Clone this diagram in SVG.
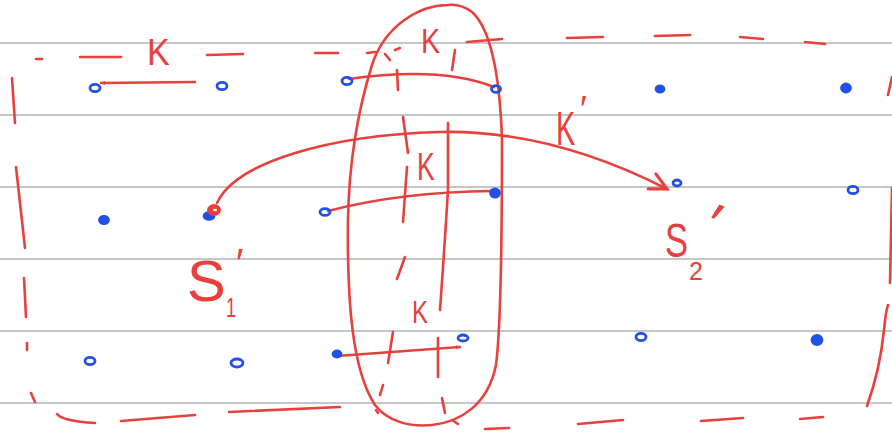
<svg xmlns="http://www.w3.org/2000/svg" width="892" height="436" viewBox="0 0 892 436">
<style>
.rule{stroke:#c6c6c6;stroke-width:2.2}
.red{stroke:#e8403c;stroke-width:2.6;fill:none;stroke-linecap:round;stroke-linejoin:round}
.dot{stroke:#2350e6;stroke-width:2.8;fill:none}
.dotf{stroke:#2350e6;stroke-width:2.8;fill:#2350e6}
.lbl{font-family:"Liberation Sans",Arial,sans-serif;fill:#e8403c}
</style>
<defs>
<marker id="open" markerUnits="userSpaceOnUse" markerWidth="24" markerHeight="24" viewBox="-16 -10 20 20" refX="0" refY="0" orient="auto">
<path d="M-14,-7 L0,0 L-14,7" fill="none" stroke="#e8403c" stroke-width="2.6" stroke-linecap="round"/>
</marker>
<marker id="tip" markerUnits="userSpaceOnUse" markerWidth="10" markerHeight="10" viewBox="-5 -5 10 10" refX="0" refY="0" orient="auto">
<path d="M-4,-2 L1,0 L-4,2 Z" fill="#e8403c"/>
</marker>
</defs>
<rect width="892" height="436" fill="#ffffff"/>
<g id="ruled-lines">
<line class="rule" x1="0" y1="43" x2="892" y2="43"/>
<line class="rule" x1="0" y1="115" x2="892" y2="115"/>
<line class="rule" x1="0" y1="187" x2="892" y2="187"/>
<line class="rule" x1="0" y1="259" x2="892" y2="259"/>
<line class="rule" x1="0" y1="331" x2="892" y2="331"/>
<line class="rule" x1="0" y1="403" x2="892" y2="403"/>
</g>
<g id="dashed-boundary" class="red">
<path d="M36,59 L42,59"/>
<path d="M80,57 L121,57"/>
<path d="M207,55 L243,54"/>
<path d="M315,53 L338,53"/>
<path d="M367,53 L375,52"/>
<path d="M385,54 L390,60"/>
<path d="M395,50 L400,48"/>
<path d="M467,42 L502,39"/>
<path d="M567,38 L603,37"/>
<path d="M655,36 L690,35"/>
<path d="M740,37 L763,39"/>
<path d="M805,42 L825,44"/>
<path d="M12,78 L15,123"/>
<path d="M16,167 L25,248"/>
<path d="M24,278 L26,317"/>
<path d="M27,343 L27,350"/>
<path d="M31,393 L35,402"/>
<path d="M57,414 Q62,421 95,423"/>
<path d="M121,421 L195,415"/>
<path d="M229,412 L340,407"/>
<path d="M485,429 L509,428"/>
<path d="M578,424 L623,420"/>
<path d="M701,421 L743,418"/>
<path d="M800,419 L823,417"/>
<path d="M867,406 Q880,370 884,330 Q886,310 888,305"/>
<path d="M890,283 L892,188"/>
<path d="M888,95 L892,77"/>
</g>
<g id="ellipse-group" class="red">
<path d="M448,5 C420,5 385,25 372,65 C358,110 349,160 348,220 C347,300 352,370 375,405 C388,422 410,427 432,425 C460,422 488,405 496,365 C502,320 502,200 502,140 C500,80 492,30 472,12 C464,6 456,4 448,5"/>
<path d="M397,70 L398,90"/>
<path d="M403,117 L408,153"/>
<path d="M407,167 L403,222"/>
<path d="M405,257 L397,279"/>
<path d="M393,332 L388,363"/>
<path d="M383,385 L380,395"/>
<path d="M376,410 L378,413"/>
<path d="M455,50 L452,70"/>
<path d="M448,123 L448,190 Q445,240 440,310"/>
<path d="M438,338 L438,377"/>
<path d="M442,398 L445,413"/>
<path d="M452,420 L458,424"/>
</g>
<g id="connectors" class="red">
<path id="e-top" d="M195,82 L101,83" marker-end="url(#tip)"/>
<path id="e-row1" d="M349,79 Q440,66 494,87"/>
<path id="e-kprime" d="M217,203 C236,162 330,135 440,132 C530,130 610,160 667,189" marker-end="url(#open)"/>
<path id="e-row2" d="M328,211 Q400,192 493,191"/>
<path id="e-row3" d="M337,356 L460,347" marker-end="url(#tip)"/>
</g>
<g id="nodes">
<g id="n-r1-1"><ellipse class="dot" cx="95" cy="88" rx="5" ry="3.6"/></g>
<g id="n-r1-2"><ellipse class="dot" cx="222" cy="86" rx="5" ry="3.6"/></g>
<g id="n-r1-3"><ellipse class="dot" cx="347" cy="81" rx="5" ry="3.6"/></g>
<g id="n-r1-4"><ellipse class="dot" cx="496" cy="89" rx="4.5" ry="3.4"/></g>
<g id="n-r1-5"><ellipse class="dotf" cx="660" cy="89" rx="4" ry="3.2"/></g>
<g id="n-r1-6"><ellipse class="dotf" cx="846" cy="88" rx="4.5" ry="4"/></g>
<g id="n-r2-1"><ellipse class="dotf" cx="104" cy="220" rx="4.5" ry="3.6"/></g>
<g id="n-r2-2"><ellipse class="dotf" cx="209" cy="216" rx="5" ry="3.4"/><ellipse cx="214" cy="210" rx="6" ry="5" fill="#e8403c" stroke="#e8403c" stroke-width="2"/><ellipse cx="215" cy="210" rx="2" ry="1.2" fill="#fff"/></g>
<g id="n-r2-3"><ellipse class="dot" cx="325" cy="212" rx="5" ry="3.4"/></g>
<g id="n-r2-4"><ellipse class="dotf" cx="495" cy="193" rx="4.5" ry="4.2"/></g>
<g id="n-r2-5"><ellipse class="dot" cx="677" cy="183" rx="4" ry="3"/></g>
<g id="n-r2-6"><ellipse class="dot" cx="853" cy="190" rx="5" ry="3.6"/></g>
<g id="n-r3-1"><ellipse class="dot" cx="90" cy="361" rx="5" ry="3.6"/></g>
<g id="n-r3-2"><ellipse class="dot" cx="237" cy="363" rx="6" ry="4"/></g>
<g id="n-r3-3"><ellipse class="dotf" cx="337" cy="354" rx="4" ry="3"/></g>
<g id="n-r3-4"><ellipse class="dot" cx="463" cy="338" rx="5" ry="3"/></g>
<g id="n-r3-5"><ellipse class="dot" cx="641" cy="337" rx="5" ry="3.6"/></g>
<g id="n-r3-6"><ellipse class="dotf" cx="817" cy="340" rx="5" ry="4.5"/></g>
</g>
<g id="labels">
<text class="lbl" transform="translate(147,65) scale(0.95,1)" font-size="36">K</text>
<text class="lbl" transform="translate(421,53) scale(0.82,1)" font-size="35">K</text>
<text class="lbl" transform="translate(556,145) scale(0.6,1)" font-size="48">K</text>
<text class="lbl" x="580" y="122" font-size="36">′</text>
<text class="lbl" transform="translate(417,180) scale(0.7,1)" font-size="38">K</text>
<text class="lbl" transform="translate(412,323) scale(0.75,1)" font-size="32">K</text>
<text class="lbl" x="187" y="301" font-size="58">S</text>
<text class="lbl" transform="translate(226,317) scale(0.65,1)" font-size="28">1</text>
<text class="lbl" x="236" y="277" font-size="40">′</text>
<text class="lbl" transform="translate(665,257) scale(0.72,1)" font-size="48">S</text>
<text class="lbl" x="689" y="280" font-size="25">2</text>
<text class="lbl" transform="translate(698,240) rotate(25)" font-size="60">′</text>
</g>
</svg>
